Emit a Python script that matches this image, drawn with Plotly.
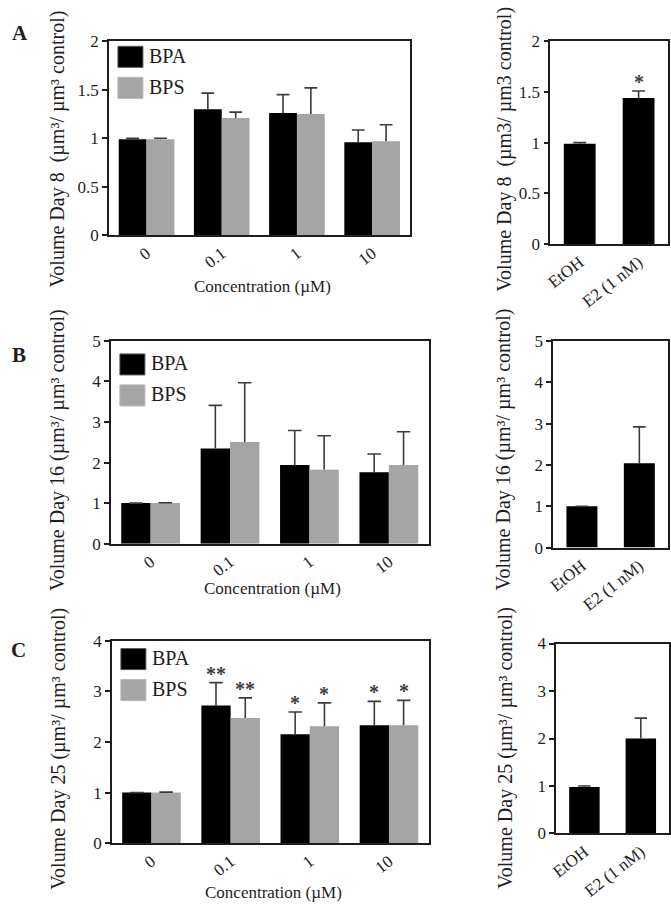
import plotly.graph_objects as go

# ---------------- data ----------------
conc_labels = ["0", "0.1", "1", "10"]
ctrl_labels = ["EtOH", "E2 (1 nM)"]

bpa_d8 = [0.99, 1.30, 1.26, 0.96]
bpa_d8_err = [0.01, 0.165, 0.19, 0.125]
bps_d8 = [0.99, 1.21, 1.25, 0.97]
bps_d8_err = [0.01, 0.06, 0.27, 0.17]
ctrl_d8 = [0.99, 1.44]
ctrl_d8_err = [0.01, 0.07]

bpa_d16 = [1.0, 2.35, 1.94, 1.76]
bpa_d16_err = [0.0, 1.06, 0.85, 0.45]
bps_d16 = [1.0, 2.51, 1.82, 1.94]
bps_d16_err = [0.01, 1.46, 0.84, 0.82]
ctrl_d16 = [1.0, 2.04]
ctrl_d16_err = [0.0, 0.88]

bpa_d25 = [1.0, 2.72, 2.15, 2.33]
bpa_d25_err = [0.0, 0.45, 0.44, 0.47]
bps_d25 = [1.0, 2.47, 2.31, 2.33]
bps_d25_err = [0.01, 0.40, 0.46, 0.49]
ctrl_d25 = [0.98, 2.00]
ctrl_d25_err = [0.02, 0.43]

bpa_d8_sig = ["", "", "", ""]
bps_d8_sig = ["", "", "", ""]
ctrl_d8_sig = ["", "*"]
bpa_d16_sig = ["", "", "", ""]
bps_d16_sig = ["", "", "", ""]
ctrl_d16_sig = ["", ""]
bpa_d25_sig = ["", "**", "*", "*"]
bps_d25_sig = ["", "**", "*", "*"]
ctrl_d25_sig = ["", ""]

series_names = ["BPA", "BPS"]
panel_letters = ["A", "B", "C"]
y_titles_left = ["Volume Day 8  (µm³/ µm³ control)",
                 "Volume Day 16 (µm³/ µm³ control)",
                 "Volume Day 25 (µm³/ µm³ control)"]
y_titles_right = ["Volume Day 8  (µm3/ µm3 control)",
                  "Volume Day 16 (µm³/ µm³ control)",
                  "Volume Day 25 (µm³/ µm³ control)"]
x_title = "Concentration (µM)"
y_max = [2, 5, 4]
y_dtick = [0.5, 1, 1]

# ---------------- style ----------------
W, H = 671, 914
FONT = "Liberation Serif"
INK = "#1e1e1e"
BLACK = "#000000"
GRAY = "#a5a5a5"
ERR = "#3c3c3c"

# pixel boxes (left, right, top, bottom)
left_boxes = [(103, 407, 33, 231), (105, 426, 339, 546), (106, 426, 645, 852)]
right_boxes = [(549, 668, 33, 240), (552, 668, 339, 550), (555, 669, 648, 842)]
left_title_x = [51, 51, 52]
right_title_x = [502, 502, 504]
title_y = [143, 450, 755]
xtitle_y = [283, 592, 902]
letter_pos = [(13, 25), (12, 353), (12, 655)]
legend_top = [5, 13, 8]

rows = [
    dict(bpa=bpa_d8, bpa_e=bpa_d8_err, bps=bps_d8, bps_e=bps_d8_err, ctrl=ctrl_d8, ctrl_e=ctrl_d8_err,
         bpa_s=bpa_d8_sig, bps_s=bps_d8_sig, ctrl_s=ctrl_d8_sig),
    dict(bpa=bpa_d16, bpa_e=bpa_d16_err, bps=bps_d16, bps_e=bps_d16_err, ctrl=ctrl_d16, ctrl_e=ctrl_d16_err,
         bpa_s=bpa_d16_sig, bps_s=bps_d16_sig, ctrl_s=ctrl_d16_sig),
    dict(bpa=bpa_d25, bpa_e=bpa_d25_err, bps=bps_d25, bps_e=bps_d25_err, ctrl=ctrl_d25, ctrl_e=ctrl_d25_err,
         bpa_s=bpa_d25_sig, bps_s=bps_d25_sig, ctrl_s=ctrl_d25_sig),
]


def px_domain(box):
    l, r, t, b = box
    return [l / W, r / W], [1 - b / H, 1 - t / H]


fig = go.Figure()
layout = dict(width=W, height=H, margin=dict(l=0, r=0, t=0, b=0),
              paper_bgcolor="white", plot_bgcolor="white", showlegend=False,
              font=dict(family=FONT, color=INK))
annotations = []
shapes = []


def err_trace(xs, ys, es, half, xa, ya):
    lx, ly = [], []
    for x, y, e in zip(xs, ys, es):
        lx += [x, x, None, x - half, x + half, None]
        ly += [y, y + e, None, y + e, y + e, None]
    return go.Scatter(x=lx, y=ly, mode="lines", line=dict(color=ERR, width=1.6),
                      xaxis=xa, yaxis=ya, hoverinfo="skip", showlegend=False)


def sig_annots(xs, ys, es, sig, xa, ya):
    out = []
    for x, y, e, s in zip(xs, ys, es, sig):
        if s:
            out.append(dict(x=x, y=y + e, xref=xa, yref=ya, text=f"<b>{s}</b>", showarrow=False,
                            yanchor="bottom", yshift=-4,
                            font=dict(family=FONT, size=20, color=ERR)))
    return out


def axis_style(rng):
    return dict(range=rng, showline=True, mirror=True, linecolor=INK, linewidth=1.5,
                showgrid=False, zeroline=False, fixedrange=True,
                tickfont=dict(family=FONT, size=17, color=INK))


BW = 0.37
RW = 0.54
ax_i = 0
for r, row in enumerate(rows):
    # ---- left grouped panel ----
    ax_i += 1
    xa = "x" if ax_i == 1 else f"x{ax_i}"
    ya = "y" if ax_i == 1 else f"y{ax_i}"
    xd, yd = px_domain(left_boxes[r])
    idx = list(range(len(conc_labels)))
    bpa_x = [i - BW / 2 for i in idx]
    bps_x = [i + BW / 2 for i in idx]
    fig.add_trace(go.Bar(x=bpa_x, y=row["bpa"], width=BW, name=series_names[0],
                         marker=dict(color=BLACK, line=dict(width=0)), xaxis=xa, yaxis=ya))
    fig.add_trace(go.Bar(x=bps_x, y=row["bps"], width=BW, name=series_names[1],
                         marker=dict(color=GRAY, line=dict(width=0)), xaxis=xa, yaxis=ya))
    fig.add_trace(err_trace(bpa_x, row["bpa"], row["bpa_e"], 0.085, xa, ya))
    fig.add_trace(err_trace(bps_x, row["bps"], row["bps_e"], 0.085, xa, ya))
    annotations += sig_annots(bpa_x, row["bpa"], row["bpa_e"], row["bpa_s"], xa, ya)
    annotations += sig_annots(bps_x, row["bps"], row["bps_e"], row["bps_s"], xa, ya)

    xax = axis_style([-0.5, len(idx) - 0.5])
    xax.update(domain=xd, anchor=ya, tickmode="array", tickvals=idx, ticktext=conc_labels,
               tickangle=-38, ticks="")
    yax = axis_style([0, y_max[r]])
    yax.update(domain=yd, anchor=xa, dtick=y_dtick[r], tick0=0, ticks="outside",
               ticklen=5, tickwidth=1.5, tickcolor=INK)
    layout["xaxis" if ax_i == 1 else f"xaxis{ax_i}"] = xax
    layout["yaxis" if ax_i == 1 else f"yaxis{ax_i}"] = yax

    # legend swatches
    top = legend_top[r]
    for k, (nm, col) in enumerate(zip(series_names, [BLACK, GRAY])):
        y0 = -(top + k * 31)
        y1 = y0 - 21
        shapes.append(dict(type="rect", xref=f"{xa} domain", yref=f"{ya} domain",
                           xsizemode="pixel", ysizemode="pixel", xanchor=0, yanchor=1,
                           x0=9, x1=34, y0=y0, y1=y1, fillcolor=col,
                           line=dict(color="#555555" if k == 0 else "#b5b5b5", width=1)))
        annotations.append(dict(x=0, y=1, xref=f"{xa} domain", yref=f"{ya} domain",
                                text=nm, showarrow=False, xanchor="left", yanchor="middle",
                                xshift=38, yshift=(y0 + y1) / 2 + 1,
                                font=dict(family=FONT, size=20, color=INK)))

    # axis titles
    l, rr, t, b = left_boxes[r]
    annotations.append(dict(x=left_title_x[r] / W, y=1 - title_y[r] / H, xref="paper", yref="paper",
                            text=y_titles_left[r], textangle=-90, showarrow=False,
                            xanchor="center", yanchor="middle",
                            font=dict(family=FONT, size=20, color=INK)))
    annotations.append(dict(x=((l + rr) / 2 + 3) / W, y=1 - xtitle_y[r] / H, xref="paper", yref="paper",
                            text=x_title, showarrow=False, xanchor="center", yanchor="middle",
                            font=dict(family=FONT, size=17, color=INK)))
    lx, ly = letter_pos[r]
    annotations.append(dict(x=lx / W, y=1 - ly / H, xref="paper", yref="paper",
                            text=f"<b>{panel_letters[r]}</b>", showarrow=False,
                            xanchor="center", yanchor="middle",
                            font=dict(family=FONT, size=21, color=INK)))

    # ---- right control panel ----
    ax_i += 1
    xa = f"x{ax_i}"
    ya = f"y{ax_i}"
    xd, yd = px_domain(right_boxes[r])
    cidx = list(range(len(ctrl_labels)))
    fig.add_trace(go.Bar(x=cidx, y=row["ctrl"], width=RW, name="control",
                         marker=dict(color=BLACK, line=dict(width=0)), xaxis=xa, yaxis=ya))
    fig.add_trace(err_trace(cidx, row["ctrl"], row["ctrl_e"], 0.11, xa, ya))
    annotations += sig_annots(cidx, row["ctrl"], row["ctrl_e"], row["ctrl_s"], xa, ya)
    xax = axis_style([-0.5, len(cidx) - 0.5])
    xax.update(domain=xd, anchor=ya, tickmode="array", tickvals=cidx, ticktext=ctrl_labels,
               tickangle=-38, ticks="")
    yax = axis_style([0, y_max[r]])
    yax.update(domain=yd, anchor=xa, dtick=y_dtick[r], tick0=0, ticks="outside",
               ticklen=5, tickwidth=1.5, tickcolor=INK)
    layout[f"xaxis{ax_i}"] = xax
    layout[f"yaxis{ax_i}"] = yax
    annotations.append(dict(x=right_title_x[r] / W, y=1 - title_y[r] / H, xref="paper", yref="paper",
                            text=y_titles_right[r], textangle=-90, showarrow=False,
                            xanchor="center", yanchor="middle",
                            font=dict(family=FONT, size=20, color=INK)))

layout["annotations"] = annotations
layout["shapes"] = shapes
layout["barmode"] = "overlay"
fig.update_layout(**layout)
fig.write_html("out.html", config={"displayModeBar": False},
               post_script="document.body.style.margin='0px';document.body.style.padding='0px';"
                           "document.body.style.overflow='hidden';")
